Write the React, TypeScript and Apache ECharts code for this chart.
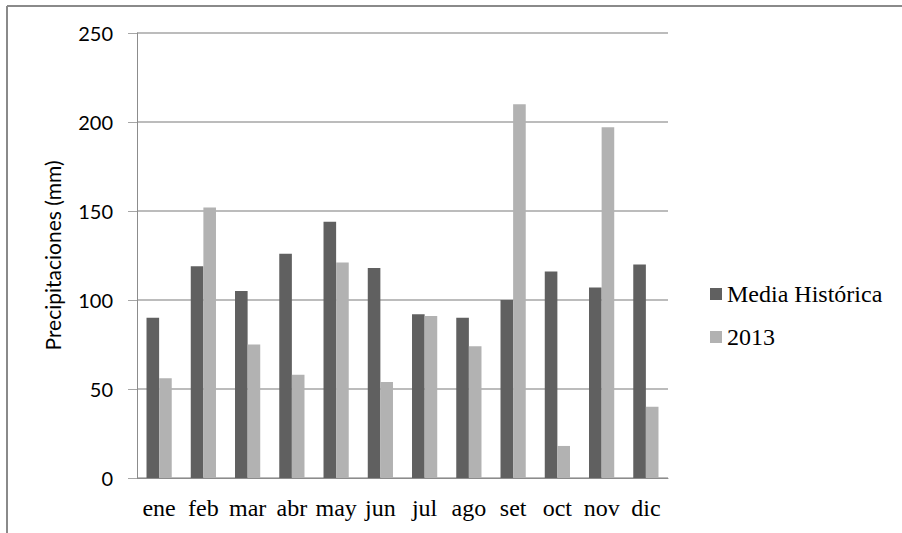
import React, { useEffect, useRef } from "react";
import * as echarts from "echarts";

const months = ["ene", "feb", "mar", "abr", "may", "jun", "jul", "ago", "set", "oct", "nov", "dic"];
const mediaHistorica = [90, 119, 105, 126, 144, 118, 92, 90, 100, 116, 107, 120];
const valores2013 = [56, 152, 75, 58, 121, 54, 91, 74, 210, 18, 197, 40];
const yTicks = { min: 0, max: 250, interval: 50 };

const SERIF = "Liberation Serif";
const SANS = "Lato";

export default function App() {
  const ref = useRef<HTMLDivElement>(null);
  useEffect(() => {
    if (!ref.current) return;
    const chart = echarts.init(ref.current, null, { renderer: "svg" });
    chart.setOption({
      animation: false,
      backgroundColor: "#ffffff",
      textStyle: { fontFamily: SERIF },
      grid: { left: 137, right: 234, top: 33, bottom: 55 },
      legend: {
        orient: "vertical",
        left: 705,
        top: 277,
        itemWidth: 12,
        itemHeight: 12,
        itemGap: 19,
        icon: "rect",
        textStyle: { fontFamily: SERIF, fontSize: 24, color: "#000" },
        data: ["Media Histórica", "2013"],
      },
      xAxis: {
        type: "category",
        data: months,
        axisLine: { show: true, lineStyle: { color: "#8c8c8c", width: 1 } },
        axisTick: { show: false },
        axisLabel: { fontFamily: SERIF, fontSize: 24, color: "#000", margin: 18, interval: 0 },
      },
      yAxis: {
        type: "value",
        min: yTicks.min,
        max: yTicks.max,
        interval: yTicks.interval,
        name: "Precipitaciones (mm)",
        nameLocation: "middle",
        nameGap: 74,
        nameTextStyle: { fontFamily: SANS, fontSize: 21, color: "#000" },
        axisLine: { show: true, lineStyle: { color: "#8c8c8c", width: 1 } },
        axisTick: { show: true, length: 9, lineStyle: { color: "#a6a6a6" } },
        axisLabel: { fontFamily: SANS, fontSize: 20, color: "#000", margin: 24 },
        splitLine: { show: true, lineStyle: { color: "#a6a6a6", width: 1.5 } },
      },
      series: [
        {
          name: "Media Histórica",
          type: "bar",
          data: mediaHistorica,
          barGap: "0%",
          barCategoryGap: "43%",
          itemStyle: { color: "#606060" },
        },
        {
          name: "2013",
          type: "bar",
          data: valores2013,
          barGap: "0%",
          barCategoryGap: "43%",
          itemStyle: { color: "#b2b2b2" },
        },
      ],
      graphic: [
        { type: "line", shape: { x1: 7, y1: 6, x2: 902, y2: 6 }, style: { stroke: "#8a8a8a", lineWidth: 2 } },
        { type: "line", shape: { x1: 7, y1: 6, x2: 7, y2: 533 }, style: { stroke: "#8a8a8a", lineWidth: 2 } },
      ],
    });
    return () => chart.dispose();
  }, []);
  return <div ref={ref} style={{ position: "fixed", left: 0, top: 0, width: 902, height: 533 }} />;
}
